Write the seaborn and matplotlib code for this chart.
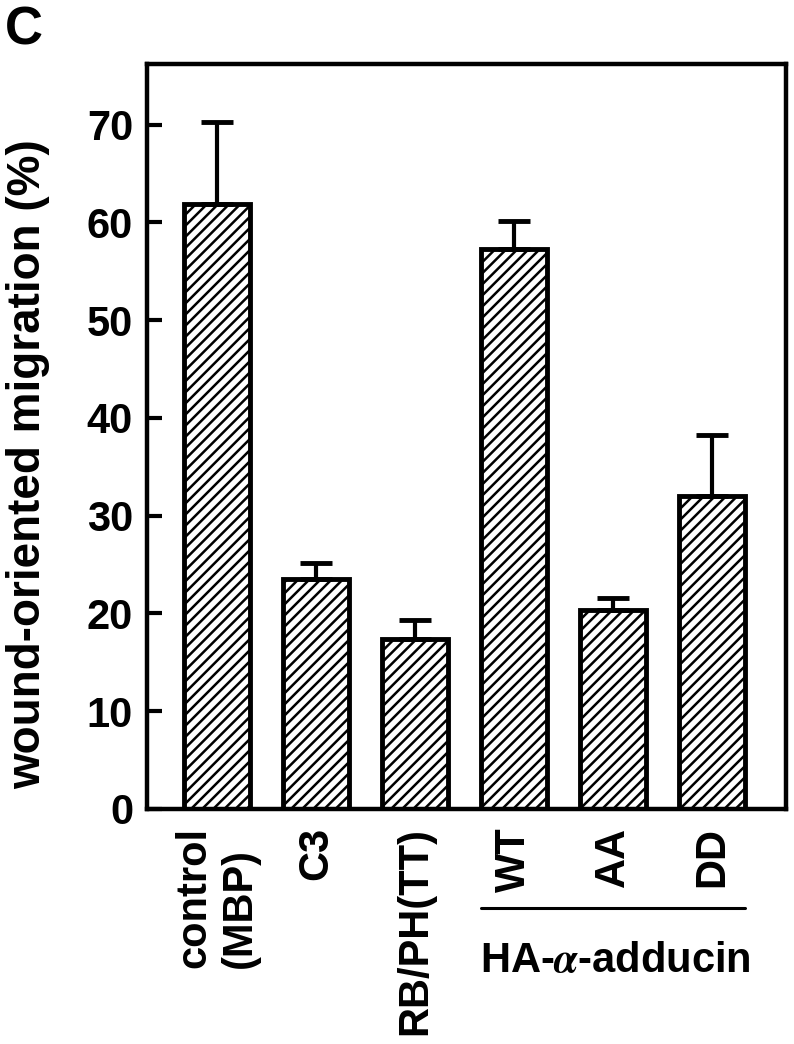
import numpy as np
import pandas as pd
import matplotlib
matplotlib.use('Agg')
import matplotlib.pyplot as plt
import seaborn as sns

# values (mean and upper error, %)
groups = ['control\n(MBP)', 'C3', 'RB/PH(TT)', 'WT', 'AA', 'DD']
migration = [61.9, 23.5, 17.4, 57.3, 20.4, 32.0]
err_up = [8.4, 1.7, 1.9, 2.8, 1.2, 6.3]
yticks = [0, 10, 20, 30, 40, 50, 60, 70]
bracket_label = 'HA-$\\alpha$-adducin'

sns.set_style('ticks')
plt.rcParams['font.family'] = ['Liberation Sans', 'DejaVu Sans']
plt.rcParams['font.weight'] = 'bold'
plt.rcParams['mathtext.fontset'] = 'stix'
plt.rcParams['hatch.linewidth'] = 1.8
plt.rcParams['hatch.color'] = 'black'
for k in ['text.color', 'axes.labelcolor', 'xtick.color', 'ytick.color', 'axes.edgecolor']:
    plt.rcParams[k] = 'black'

df = pd.DataFrame({'group': groups, 'migration': migration})

fig = plt.figure(figsize=(7.94, 10.44), dpi=100)
ax = fig.add_axes([0.185, 0.2251, 0.805, 0.7136])

sns.barplot(data=df, x='group', y='migration', color='white', saturation=1,
            edgecolor='black', linewidth=3.5, hatch='///', width=0.67,
            errorbar=None, ax=ax)
ax.errorbar(np.arange(len(groups)), migration,
            yerr=[np.zeros(len(err_up)), err_up], fmt='none', ecolor='black',
            elinewidth=3, capsize=11.5, capthick=3.5, zorder=3)

ax.set_xlim(-0.71, 5.75)
ax.set_ylim(0, 76.2)
ax.set_yticks(yticks)
ax.set_xticks(range(len(groups)))
ax.set_xticklabels(groups, rotation=90, ma='left', fontsize=30, fontweight='bold')
ax.tick_params(axis='y', direction='in', length=11, width=3, pad=10, labelsize=30)
ax.tick_params(axis='x', length=0, pad=13)
for s in ax.spines.values():
    s.set_visible(True)
    s.set_linewidth(3.2)
    s.set_color('black')

ax.set_xlabel('')
ax.set_ylabel('wound-oriented migration (%)', fontsize=33, fontweight='bold')
ax.yaxis.set_label_coords(-0.152, 0.463)

# group bracket under WT / AA / DD
ax.plot([3 - 0.335, 5 + 0.34], [-0.133, -0.133], transform=ax.get_xaxis_transform(),
        color='black', lw=2.2, clip_on=False)
ax.text(4.03, -0.219, bracket_label, transform=ax.get_xaxis_transform(),
        ha='center', va='baseline', fontsize=30, fontweight='bold')

fig.text(0.006, 0.995, 'C', fontsize=38, fontweight='bold', ha='left', va='top')

fig.savefig('out.png', dpi=100)
plt.close(fig)
